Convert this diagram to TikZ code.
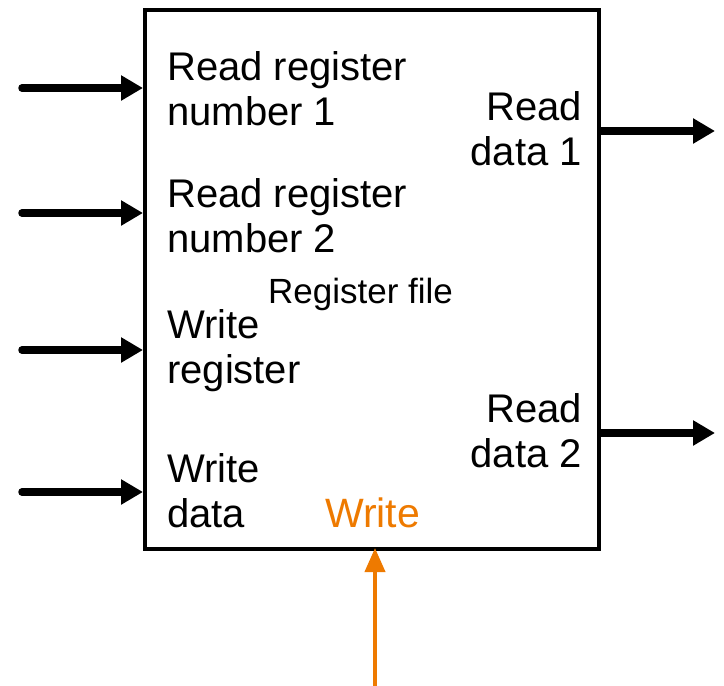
\documentclass[tikz,border=0pt]{standalone}
\usepackage{fontspec}
\setmainfont{Liberation Sans}
\usetikzlibrary{arrows.meta}
\definecolor{wrorange}{RGB}{238,122,0}
\tikzset{
  port/.style={anchor=base west, align=left, inner sep=0pt, font=\fontsize{40}{45}\selectfont},
  outport/.style={anchor=base east, align=right, inner sep=0pt, font=\fontsize{40}{45}\selectfont},
  bus/.style={line width=7.5pt, line cap=round, -{Triangle[length=22pt,width=24pt]}},
  ctrl/.style={line width=4pt, wrorange, -{Triangle[length=24pt,width=20pt]}}
}
\begin{document}
\begin{tikzpicture}[x=1pt,y=-1pt]
  \useasboundingbox (0,0) rectangle (724,686);
  \node[draw, line width=4pt, anchor=north west, inner sep=0pt,
        minimum width=454pt, minimum height=539pt] (rf) at (143,8) {};
  % labels inside the box (base = last line)
  \node[port] (rr1) at (167,125) {Read register\\number 1};
  \node[port] (rr2) at (167,252) {Read register\\number 2};
  \node[port] (wr) at (167,383) {Write\\register};
  \node[port] (wd) at (167,527) {Write\\data};
  \node[outport] (rd1) at (582,165) {Read\\data 1};
  \node[outport] (rd2) at (582,467) {Read\\data 2};
  \node[anchor=base west, inner sep=0pt, font=\fontsize{35}{40}\selectfont] (name) at (268,303) {Register file};
  \node[anchor=base west, inner sep=0pt, text=wrorange, font=\fontsize{41}{45}\selectfont] (wlab) at (325,527) {Write};
  % free ends
  \coordinate (a1) at (22,88);
  \coordinate (a2) at (22,213);
  \coordinate (a3) at (22,350);
  \coordinate (a4) at (22,492);
  \coordinate (b1) at (715,131);
  \coordinate (b2) at (715,433);
  \coordinate (c) at (375,686);
  \draw[bus] (a1) -- (a1 -| rf.west);
  \draw[bus] (a2) -- (a2 -| rf.west);
  \draw[bus] (a3) -- (a3 -| rf.west);
  \draw[bus] (a4) -- (a4 -| rf.west);
  \draw[bus, line cap=butt] (b1 -| rf.east) -- (b1);
  \draw[bus, line cap=butt] (b2 -| rf.east) -- (b2);
  \draw[ctrl] (c) -- ([yshift=3pt]c |- rf.south);
\end{tikzpicture}
\end{document}
